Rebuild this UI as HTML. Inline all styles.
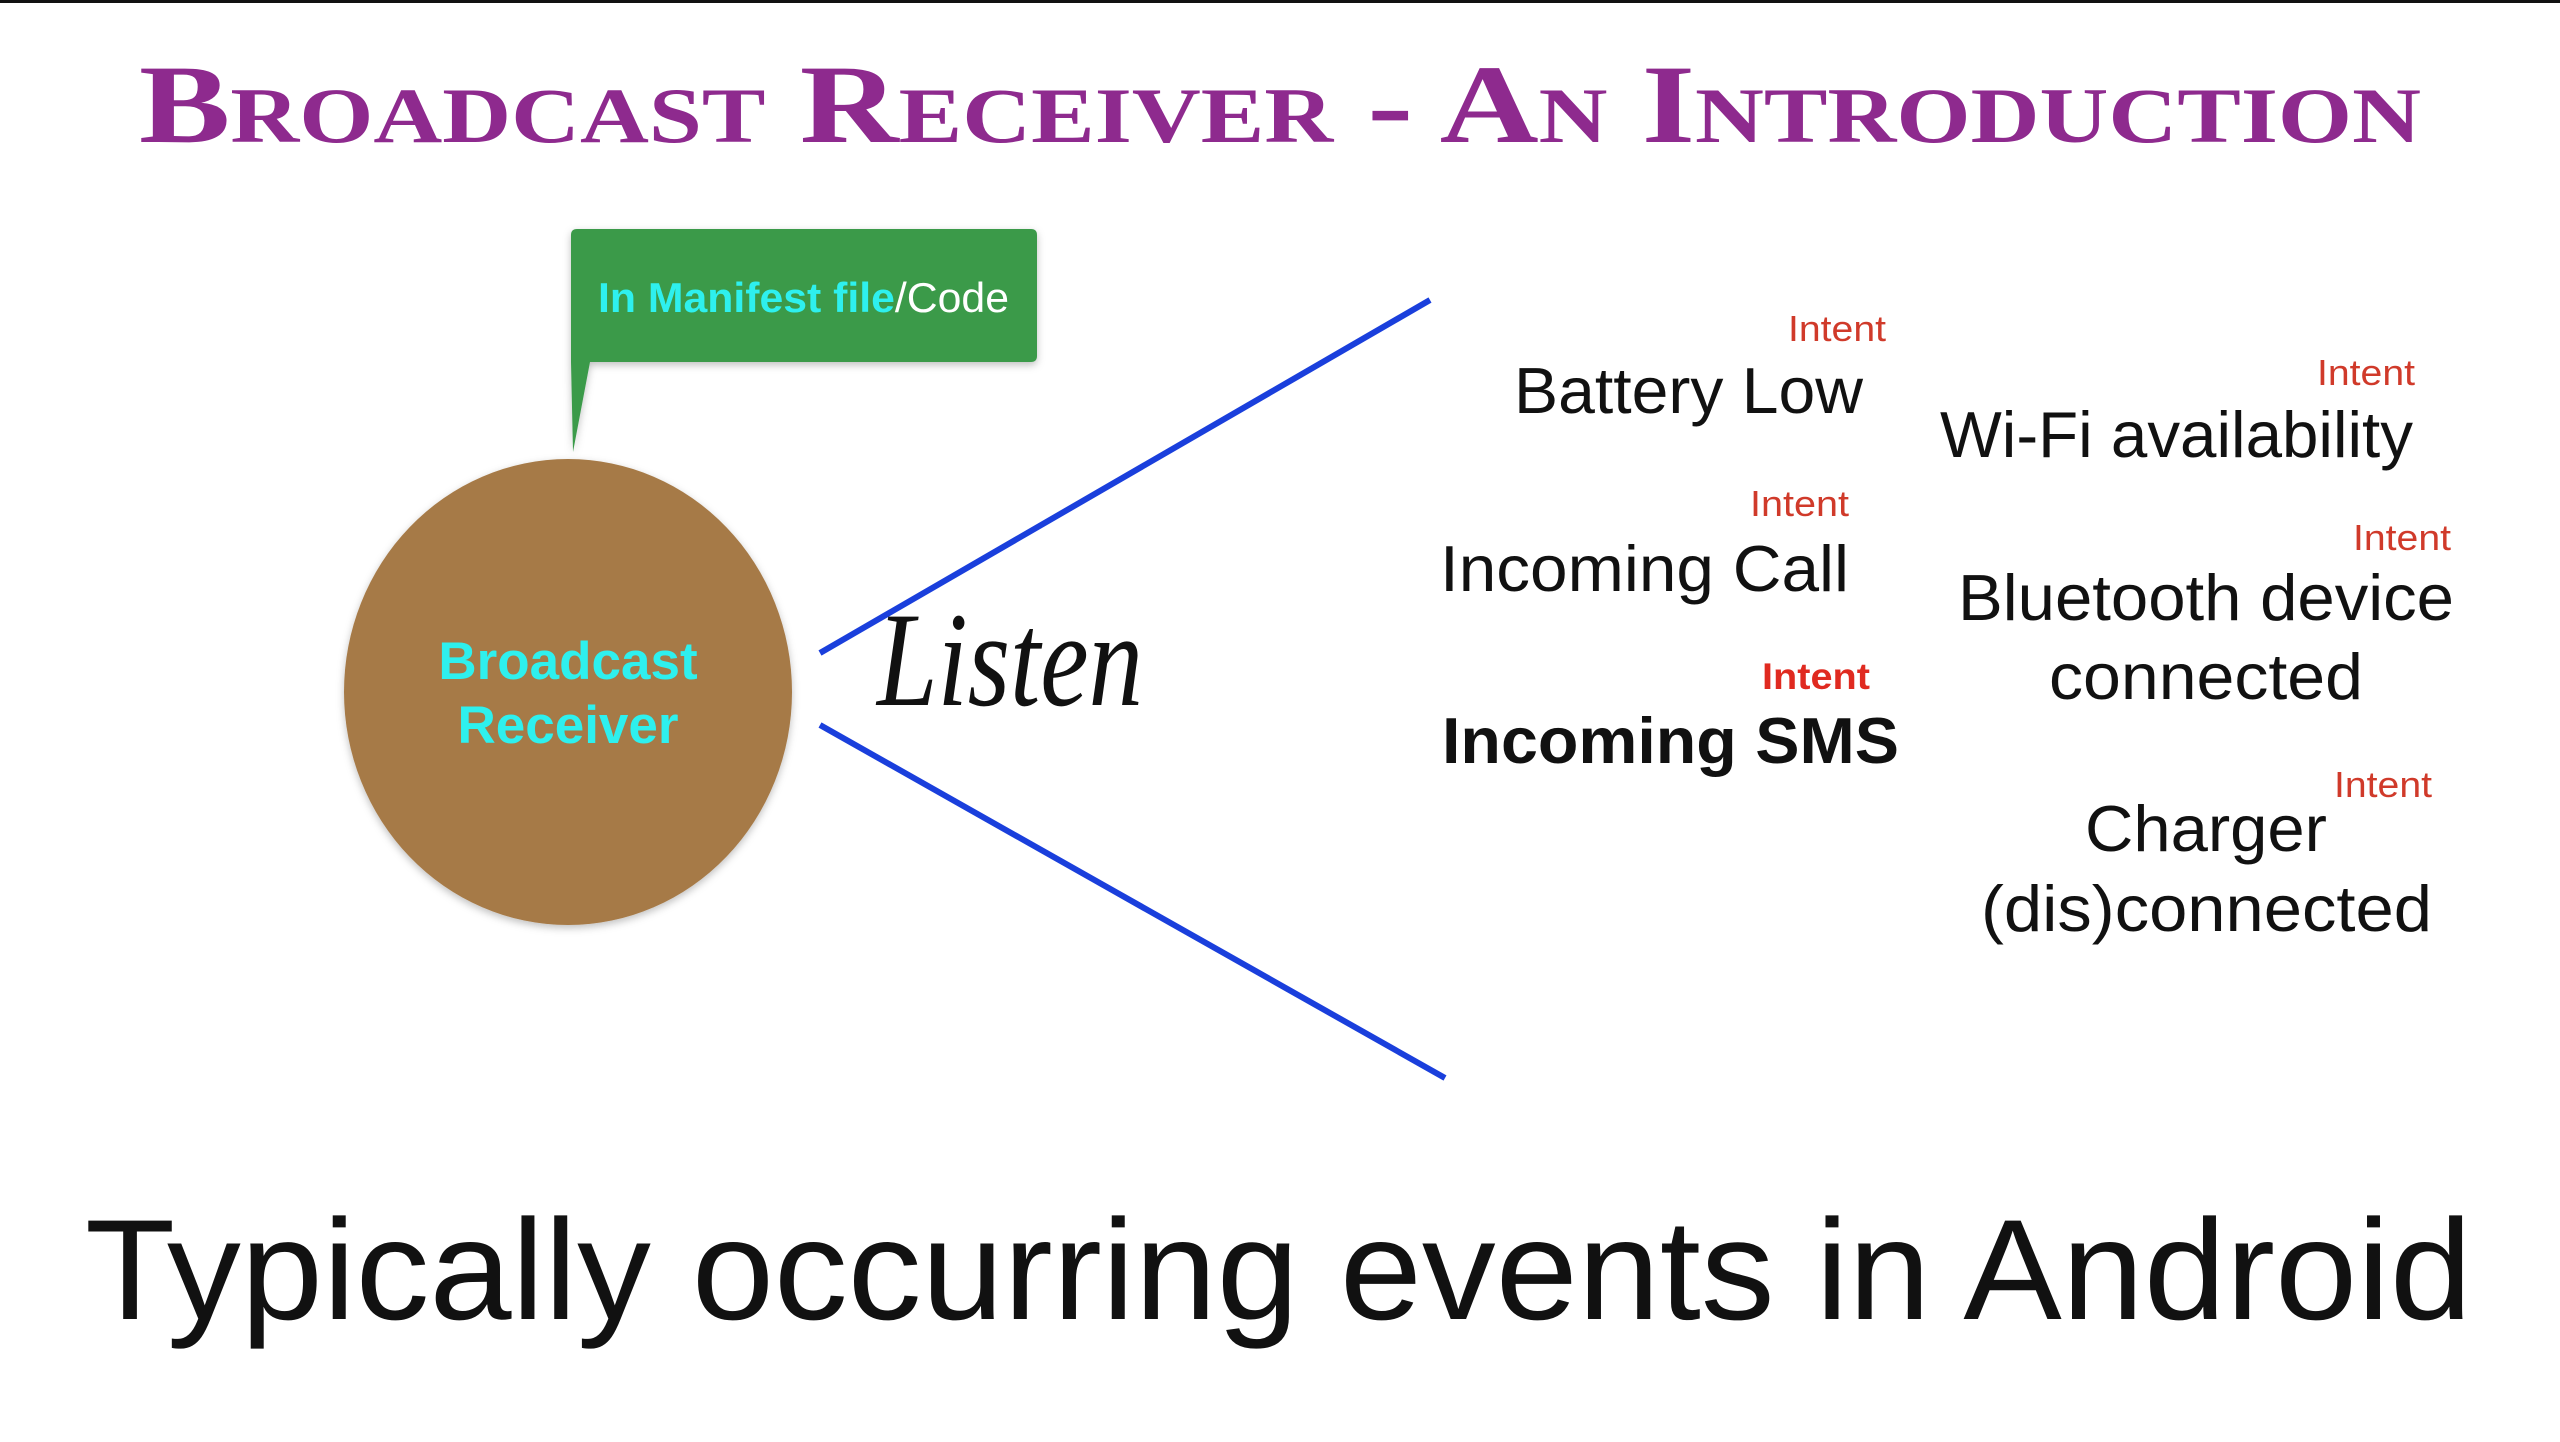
<!DOCTYPE html>
<html><head><meta charset="utf-8"><style>
html,body{margin:0;padding:0;background:#fff;}
svg{display:block}
</style></head><body>
<svg width="2560" height="1442" viewBox="0 0 2560 1442" xmlns="http://www.w3.org/2000/svg">
<defs>
<filter id="sh" x="-10%" y="-10%" width="120%" height="120%"><feDropShadow dx="0" dy="3" stdDeviation="4" flood-color="#000" flood-opacity="0.25"/></filter>
</defs>
<rect x="0" y="0" width="2560" height="3" fill="#111"/>
<text x="139" y="142" textLength="2282" lengthAdjust="spacingAndGlyphs" font-family="Liberation Serif, serif" font-weight="bold" font-size="112" font-variant="small-caps" fill="#8e2a8e">Broadcast Receiver - An Introduction</text>

<path d="M577 229 H1031 Q1037 229 1037 235 V356 Q1037 362 1031 362 H590 L573 452 L571 362 Q571 362 571 356 V235 Q571 229 577 229 Z" fill="#3a9a4a" filter="url(#sh)"/>
<text x="598" y="312" textLength="411" lengthAdjust="spacingAndGlyphs" font-family="Liberation Sans, sans-serif" font-size="42"><tspan fill="#2ef0ee" font-weight="bold">In Manifest file</tspan><tspan fill="#fff">/Code</tspan></text>

<ellipse cx="568" cy="692" rx="224" ry="233" fill="#a67a47" filter="url(#sh)"/>
<text x="568" y="679" text-anchor="middle" font-family="Liberation Sans, sans-serif" font-weight="bold" font-size="53" fill="#2ef0ee">Broadcast</text>
<text x="568" y="743" text-anchor="middle" font-family="Liberation Sans, sans-serif" font-weight="bold" font-size="53" fill="#2ef0ee">Receiver</text>

<line x1="820" y1="653" x2="1430" y2="300" stroke="#1a3fdc" stroke-width="6"/>
<line x1="820" y1="725" x2="1445" y2="1078" stroke="#1a3fdc" stroke-width="6"/>
<text x="877" y="705" textLength="266" lengthAdjust="spacingAndGlyphs" font-family="Liberation Serif, serif" font-style="italic" font-size="135" fill="#111">Listen</text>

<g font-family="Liberation Sans, sans-serif">
<text x="1788" y="341" textLength="98" lengthAdjust="spacingAndGlyphs" font-size="36" fill="#d03a2a">Intent</text>
<text x="1514" y="413" textLength="349" lengthAdjust="spacingAndGlyphs" font-size="65" fill="#111">Battery Low</text>
<text x="2317" y="385" textLength="98" lengthAdjust="spacingAndGlyphs" font-size="36" fill="#d03a2a">Intent</text>
<text x="1940" y="457" textLength="473" lengthAdjust="spacingAndGlyphs" font-size="65" fill="#111">Wi-Fi availability</text>
<text x="1750" y="516" textLength="99" lengthAdjust="spacingAndGlyphs" font-size="36" fill="#d03a2a">Intent</text>
<text x="1440" y="591" textLength="409" lengthAdjust="spacingAndGlyphs" font-size="65" fill="#111">Incoming Call</text>
<text x="2353" y="550" textLength="98" lengthAdjust="spacingAndGlyphs" font-size="36" fill="#d03a2a">Intent</text>
<text x="1958" y="620" textLength="496" lengthAdjust="spacingAndGlyphs" font-size="65" fill="#111">Bluetooth device</text>
<text x="2049" y="699" textLength="314" lengthAdjust="spacingAndGlyphs" font-size="65" fill="#111">connected</text>
<text x="1762" y="689" textLength="108" lengthAdjust="spacingAndGlyphs" font-size="37" font-weight="bold" fill="#e02a20">Intent</text>
<text x="1442" y="763" textLength="457" lengthAdjust="spacingAndGlyphs" font-size="65" font-weight="bold" fill="#111">Incoming SMS</text>
<text x="2334" y="797" textLength="98" lengthAdjust="spacingAndGlyphs" font-size="36" fill="#d03a2a">Intent</text>
<text x="2085" y="851" textLength="242" lengthAdjust="spacingAndGlyphs" font-size="65" fill="#111">Charger</text>
<text x="1981" y="931" textLength="451" lengthAdjust="spacingAndGlyphs" font-size="65" fill="#111">(dis)connected</text>
<text x="85" y="1319" textLength="2387" lengthAdjust="spacingAndGlyphs" font-size="143" fill="#111">Typically occurring events in Android</text>
</g>
</svg>
</body></html>
